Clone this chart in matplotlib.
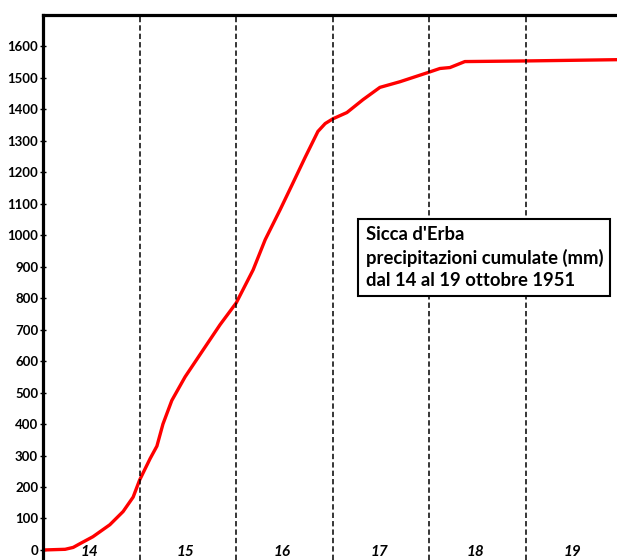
import matplotlib.pyplot as plt

# ore dall'inizio del 14 ottobre 1951 e pioggia cumulata (mm)
ore = [0.5, 5.5, 7.5, 9.2, 12.4, 16.6, 19.9, 22.4, 24.0, 26.6, 28.3, 29.8,
       32.0, 35.3, 39.8, 44.0, 48.0, 52.2, 55.2, 58.9, 61.9, 65.1, 68.3,
       70.1, 72.0, 75.5, 79.5, 83.7, 88.7, 95.6, 98.6, 101.1, 104.8, 120.0,
       142.6]
mm = [0, 2, 8, 20, 42, 80, 122, 168, 222, 290, 330, 400,
      475, 550, 636, 716, 785, 890, 986, 1081, 1161, 1247, 1330,
      1355, 1370, 1390, 1431, 1470, 1488, 1517, 1530, 1533, 1552, 1554,
      1558]
giorni = ['14', '15', '16', '17', '18', '19']
yticks = list(range(0, 1700, 100))

font = ['Lato', 'DejaVu Sans']

fig = plt.figure(figsize=(6.17, 5.6), dpi=100)
ax = fig.add_axes([43 / 617, 0.0, 1 - 43 / 617, 1 - 15 / 560])

ax.plot(ore, mm, color='#ff0000', lw=2.4, solid_capstyle='round',
        solid_joinstyle='round')

for i in range(1, 6):
    ax.axvline(i * 24, color='black', lw=1.1, ls=(0, (3.5, 2)))

for i, g in enumerate(giorni):
    ax.text(i * 24 + 11.5, -8, g, ha='center', va='center', fontsize=11,
            fontweight='bold', fontstyle='italic', family=font)

ax.set_xlim(0, 142.6)
ax.set_ylim(-32, 1700)
ax.set_yticks(yticks)
ax.set_yticklabels([str(v) for v in yticks], fontsize=9.5, fontweight='bold', family=font)
ax.set_xticks([])
ax.tick_params(axis='y', direction='inout', length=5, width=1, pad=1)

for s in ['right', 'bottom']:
    ax.spines[s].set_visible(False)
ax.spines['left'].set_linewidth(2.3)
ax.spines['top'].set_linewidth(2.3)

ax.text(0.562, 0.555, "Sicca d'Erba\nprecipitazioni cumulate (mm)\ndal 14 al 19 ottobre 1951",
        transform=ax.transAxes, ha='left', va='center', fontsize=13.3,
        fontweight='bold', family=font, linespacing=1.35,
        bbox=dict(boxstyle='square,pad=0.4', fc='white', ec='black', lw=1.5))

fig.savefig('out.png', dpi=100)
